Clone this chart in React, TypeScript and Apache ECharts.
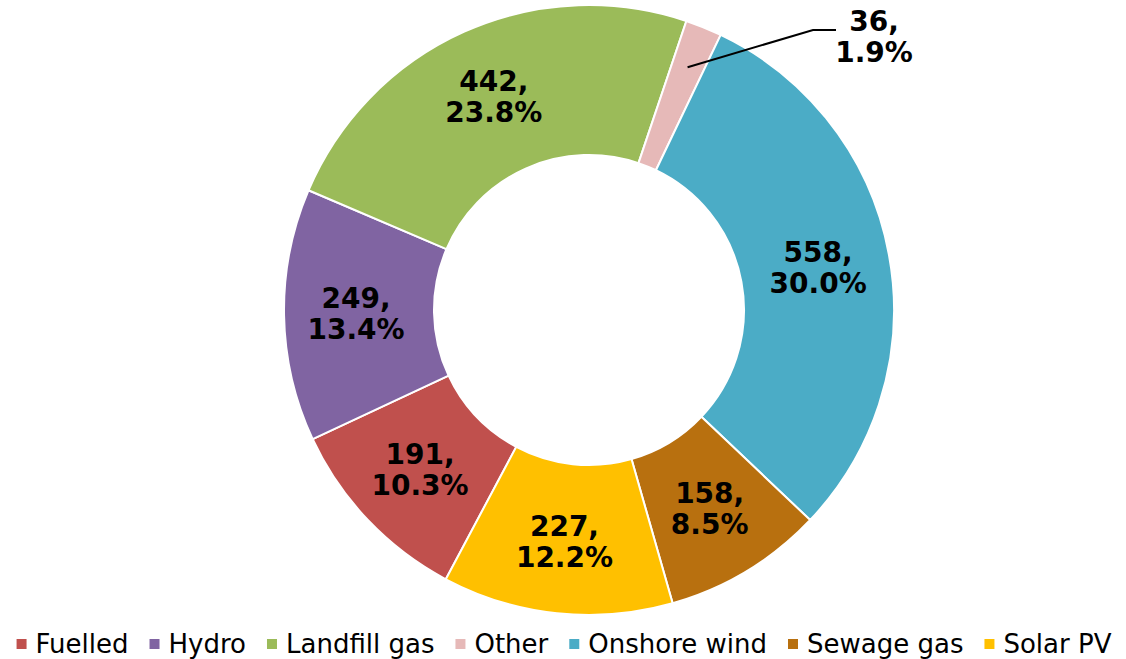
import React, { useEffect, useRef } from "react";
import * as echarts from "echarts";

const categories = ["Fuelled", "Hydro", "Landfill gas", "Other", "Onshore wind", "Sewage gas", "Solar PV"];
const values = [191, 249, 442, 36, 558, 158, 227];
const colors = ["#C0504D", "#8064A2", "#9BBB59", "#E6B9B8", "#4BACC6", "#B8700F", "#FFC000"];

const CX = 589;
const CY = 310;
const R0 = 155;
const R1 = 305;
const START_CW = 208; // degrees clockwise from 12 o'clock

export default function App() {
  const ref = useRef<HTMLDivElement>(null);
  useEffect(() => {
    document.body.style.margin = "0";
    const chart = echarts.init(ref.current!, null, { renderer: "svg" });
    const total = values.reduce((a, b) => a + b, 0);
    const font = "'DejaVu Sans', Verdana, sans-serif";
    const otherIdx = 3;
    const cumBefore = values.slice(0, otherIdx).reduce((a, b) => a + b, 0);
    const midDeg = START_CW + ((cumBefore + values[otherIdx] / 2) / total) * 360;
    const midRad = (midDeg * Math.PI) / 180;
    const rLine = 262;
    const lineStart = [CX + rLine * Math.sin(midRad), CY - rLine * Math.cos(midRad)];
    chart.setOption({
      animation: false,
      backgroundColor: "#ffffff",
      legend: {
        data: categories,
        left: "center",
        top: 624,
        icon: "rect",
        itemWidth: 12,
        itemHeight: 12,
        itemGap: 19,
        textStyle: { fontFamily: font, fontSize: 26, lineHeight: 30, color: "#000", padding: [0, 0, 0, 3] },
      },
      graphic: [
        {
          type: "polyline",
          z: 10,
          shape: { points: [lineStart, [813, 30], [836, 30]] },
          style: { stroke: "#000", lineWidth: 2, fill: "none" },
        },
      ],
      series: [
        {
          type: "pie",
          center: [CX, CY],
          radius: [R0, R1],
          startAngle: 90 - START_CW + 360,
          clockwise: true,
          avoidLabelOverlap: false,
          itemStyle: {
            borderColor: "#ffffff",
            borderWidth: 2,
          },
          label: {
            show: true,
            position: "inside",
            fontFamily: font,
            fontWeight: "bold",
            fontSize: 28,
            lineHeight: 31,
            color: "#000",
            align: "center",
            formatter: (p: any) => `${p.value},\n${((p.value / total) * 100).toFixed(1)}%`,
          },
          labelLine: { show: false },
          labelLayout: (params: any) => {
            if (params.dataIndex !== otherIdx) return {};
            return { x: 874, y: 37, align: "center", verticalAlign: "middle" };
          },
          data: categories.map((name, i) => ({
            name,
            value: values[i],
            itemStyle: { color: colors[i] },
          })),
        },
      ],
    });
    return () => chart.dispose();
  }, []);
  return <div ref={ref} style={{ width: 1126, height: 659 }} />;
}
